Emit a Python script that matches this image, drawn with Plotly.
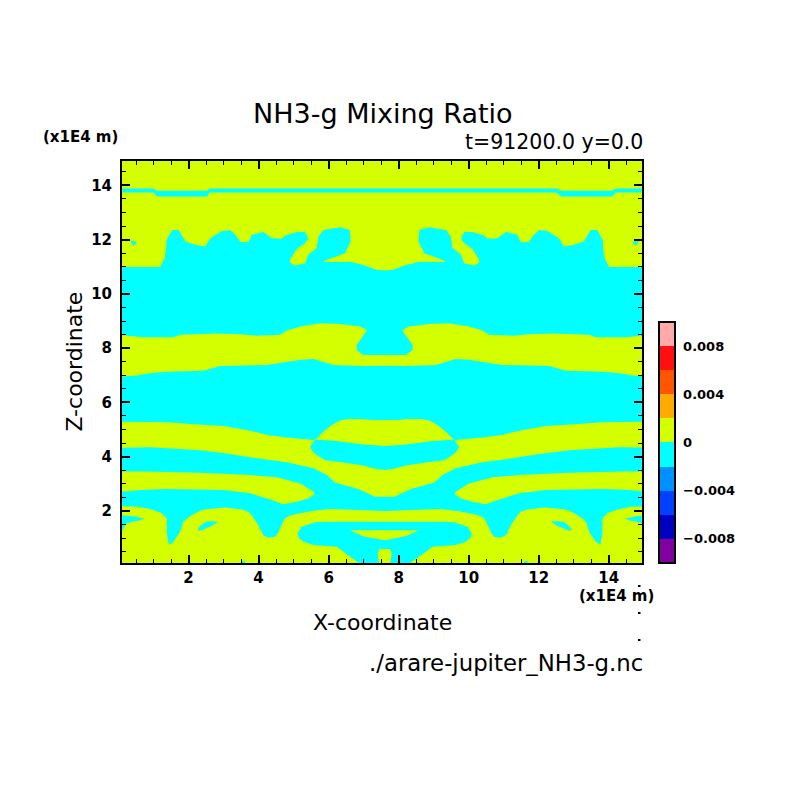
import plotly.graph_objects as go

TITLE = "NH3-g Mixing Ratio"
SUBTITLE = "t=91200.0 y=0.0"
X_LABEL = "X-coordinate"
Z_LABEL = "Z-coordinate"
UNIT_LABEL = "(x1E4 m)"
FILE_LABEL = "./arare-jupiter_NH3-g.nc"

LEVEL_COLORS = ["#8000a0", "#0000c0", "#0040ff", "#0090ff", "#00ffff",
                "#d4ff00", "#ffaa00", "#ff5500", "#ff1010", "#ffaaaa"]
BAR_TICKS = [-0.008, -0.004, 0, 0.004, 0.008]
BAR_LABELS = ["\u22120.008", "\u22120.004", "0", "0.004", "0.008"]
BACKGROUND_VALUE = 0.001
NEGATIVE = LEVEL_COLORS[4]
POSITIVE = LEVEL_COLORS[5]

# Zero contours read from the section: (x, z) in units of 1E4 m
TOP_STRIPE = [(0, 13.89), (1.0, 13.89), (1.1, 13.80), (2.53, 13.80), (2.6, 13.89), (12.5, 13.89), (12.65, 13.80),
              (14.1, 13.80), (14.2, 13.89), (15.2, 13.89), (15.2, 13.74), (14.2, 13.74), (14.1, 13.59), (12.65, 13.59),
              (12.5, 13.74), (2.6, 13.74), (2.53, 13.59), (1.1, 13.59), (1.0, 13.74), (0, 13.74)]

UPPER_REGION = [
    (0, 10.99), (1.19, 10.99), (1.32, 11.32), (1.36, 11.69), (1.37, 11.99), (1.53, 12.36), (1.72, 12.36), (1.91, 11.93),
    (2.19, 11.81), (2.48, 11.75), (2.62, 12.05), (2.95, 12.32), (3.19, 12.36), (3.38, 12.12), (3.48, 11.91), (3.71, 11.91),
    (3.81, 12.18), (4.14, 12.28), (4.38, 12.05), (4.66, 12.03), (4.76, 12.15), (5.09, 12.28), (5.33, 12.28), (5.42, 12.05),
    (5.33, 11.87), (5.09, 11.66), (4.90, 11.26), (4.90, 11.16), (5.04, 11.05), (5.33, 11.13), (5.42, 11.44), (5.66, 11.69),
    (5.71, 12.12), (5.85, 12.36), (6.33, 12.46), (6.61, 12.36), (6.63, 11.93), (6.47, 11.50), (5.90, 11.23), (5.87, 11.18),
    (6.61, 11.19), (6.99, 11.07), (7.37, 10.89), (7.61, 10.86),
    (7.83, 10.89), (8.21, 11.07), (8.59, 11.19), (9.33, 11.18), (9.30, 11.23), (8.73, 11.50), (8.57, 11.93), (8.59, 12.36),
    (8.87, 12.46), (9.35, 12.36), (9.49, 12.12), (9.54, 11.69), (9.78, 11.44), (9.87, 11.13), (10.16, 11.05), (10.30, 11.16),
    (10.30, 11.26), (10.11, 11.66), (9.87, 11.87), (9.78, 12.05), (9.87, 12.28), (10.11, 12.28), (10.44, 12.15), (10.54, 12.03),
    (10.82, 12.05), (11.06, 12.28), (11.39, 12.18), (11.49, 11.91), (11.72, 11.91), (11.82, 12.12), (12.01, 12.36), (12.25, 12.32),
    (12.58, 12.05), (12.72, 11.75), (13.01, 11.81), (13.29, 11.93), (13.48, 12.36), (13.67, 12.36), (13.83, 11.99), (13.84, 11.69),
    (13.88, 11.32), (14.01, 10.99), (15.2, 10.99),
    (15.2, 8.49), (14.48, 8.40), (13.63, 8.40), (13.44, 8.49), (12.39, 8.54), (11.73, 8.51), (11.25, 8.46), (10.58, 8.49),
    (10.39, 8.65), (10.01, 8.80), (9.44, 8.92), (8.87, 8.89), (8.30, 8.80), (8.11, 8.67), (8.16, 8.55), (8.40, 8.12),
    (8.40, 7.93), (8.21, 7.75), (6.99, 7.75), (6.80, 7.93), (6.80, 8.12), (7.04, 8.55), (7.09, 8.67), (6.90, 8.80),
    (6.33, 8.89), (5.76, 8.92), (5.19, 8.80), (4.81, 8.65), (4.62, 8.49), (3.95, 8.46), (3.47, 8.51), (2.81, 8.54),
    (1.76, 8.49), (1.57, 8.40), (0.72, 8.40), (0, 8.49),
]

MIDDLE_REGION = [
    (0, 6.95), (0.53, 6.99), (0.81, 7.07), (1.38, 7.13), (2.43, 7.17), (2.90, 7.34), (4.24, 7.38), (5.19, 7.57), (5.57, 7.60),
    (6.14, 7.38), (6.90, 7.34), (7.61, 7.35), (8.30, 7.34), (9.06, 7.38), (9.63, 7.60), (10.01, 7.57), (10.96, 7.38),
    (12.30, 7.34), (12.77, 7.17), (13.82, 7.13), (14.39, 7.07), (14.67, 6.99), (15.2, 6.95),
    (15.2, 5.29), (13.77, 5.27), (13.15, 5.20), (12.20, 5.13), (11.44, 4.96), (10.96, 4.80), (10.39, 4.71), (9.63, 4.61),
    (9.54, 4.67), (9.35, 4.92), (9.11, 5.17), (8.87, 5.33), (8.64, 5.39), (8.30, 5.39), (7.95, 5.35), (7.25, 5.35), (6.90, 5.39), (6.56, 5.39),
    (6.33, 5.33), (6.09, 5.17), (5.85, 4.92), (5.66, 4.67), (5.57, 4.61), (4.81, 4.71), (4.24, 4.80), (3.76, 4.96),
    (3.00, 5.13), (2.05, 5.20), (1.43, 5.27), (0, 5.29),
]

LENS = [(5.60, 4.63), (6.23, 4.58), (6.99, 4.45), (7.61, 4.39), (8.21, 4.45), (8.97, 4.58), (9.60, 4.63), (9.62, 4.55),
        (9.73, 4.37), (9.66, 4.20), (9.54, 4.06), (9.30, 3.87), (8.83, 3.79), (8.21, 3.67), (7.90, 3.56), (7.61, 3.51),
        (7.30, 3.56), (6.99, 3.67), (6.37, 3.79), (5.90, 3.87), (5.66, 4.06), (5.54, 4.20), (5.47, 4.37), (5.58, 4.55)]

LOWER_REGION = [
    (0, 4.33), (0.91, 4.35), (2.33, 4.24), (3.09, 4.12), (3.95, 3.94), (4.81, 3.79), (5.57, 3.57), (5.95, 3.32), (6.18, 3.05),
    (6.85, 2.81), (7.32, 2.52), (7.88, 2.52), (8.35, 2.81), (9.02, 3.05), (9.25, 3.32), (9.63, 3.57), (10.39, 3.79),
    (11.25, 3.94), (12.11, 4.12), (12.87, 4.24), (14.29, 4.35), (15.2, 4.33),
    (15.2, 2.18), (14.63, 2.15), (14.25, 2.05), (13.96, 1.91), (13.82, 1.72), (13.82, 1.17), (13.76, 0.74), (13.63, 0.86),
    (13.44, 1.23), (13.35, 1.60), (13.25, 1.72), (13.01, 1.91), (12.82, 2.03), (12.63, 2.07), (12.16, 2.13), (11.68, 2.05),
    (11.49, 1.97), (11.40, 1.85), (11.30, 1.66), (11.21, 1.48), (11.07, 1.11), (10.92, 1.01), (10.73, 1.05), (10.64, 1.19),
    (10.59, 1.35), (10.45, 1.72), (10.31, 1.82), (10.16, 1.88), (9.68, 2.00), (9.16, 2.07), (7.61, 2.00),
    (6.04, 2.07), (5.52, 2.00), (5.04, 1.88), (4.89, 1.82), (4.75, 1.72), (4.61, 1.35), (4.56, 1.19), (4.47, 1.05), (4.28, 1.01),
    (4.13, 1.11), (3.99, 1.48), (3.90, 1.66), (3.80, 1.85), (3.71, 1.97), (3.52, 2.05), (3.04, 2.13), (2.57, 2.07),
    (2.38, 2.03), (2.19, 1.91), (1.95, 1.72), (1.85, 1.60), (1.76, 1.23), (1.57, 0.86), (1.44, 0.74), (1.38, 1.17),
    (1.38, 1.72), (1.24, 1.91), (0.95, 2.05), (0.57, 2.15), (0, 2.18),
]

BAND_LEFT = [(0, 3.45), (0.72, 3.45), (2.33, 3.41), (3.76, 3.32), (4.52, 3.24), (5.19, 3.01), (5.57, 2.71), (5.60, 2.61),
             (5.42, 2.46), (5.09, 2.34), (4.71, 2.25), (4.33, 2.42), (3.76, 2.65), (3.00, 2.77), (1.38, 2.81), (0.62, 2.77), (0, 2.69)]
BAND_RIGHT = [(15.2, 3.45), (14.48, 3.45), (12.87, 3.41), (11.44, 3.32), (10.68, 3.24), (10.01, 3.01), (9.63, 2.71), (9.60, 2.61),
              (9.78, 2.46), (10.11, 2.34), (10.49, 2.25), (10.87, 2.42), (11.44, 2.65), (12.20, 2.77), (13.82, 2.81), (14.58, 2.77), (15.2, 2.69)]

NOTCH_LEFT = [(0, 1.85), (0.40, 1.80), (0.74, 1.72), (0.60, 1.65), (0.38, 1.60), (0.20, 1.52), (0.13, 1.29), (0, 1.29)]
NOTCH_RIGHT = [(15.2, 1.85), (14.80, 1.80), (14.46, 1.72), (14.60, 1.65), (14.82, 1.60), (15.0, 1.52), (15.07, 1.29), (15.2, 1.29)]

EDDY_LEFT = [(2.28, 1.35), (2.33, 1.44), (2.49, 1.60), (2.66, 1.62), (2.85, 1.60), (2.66, 1.44), (2.33, 1.27), (2.28, 1.27)]
EDDY_RIGHT = [(12.92, 1.35), (12.87, 1.44), (12.71, 1.60), (12.54, 1.62), (12.35, 1.60), (12.54, 1.44), (12.87, 1.27), (12.92, 1.27)]

ARCH_INNER = [(5.11, 1.17), (5.23, 1.42), (5.61, 1.58), (5.90, 1.60), (9.30, 1.60), (9.59, 1.58), (9.97, 1.42), (10.09, 1.17),
              (10.05, 1.00), (9.92, 0.86), (9.63, 0.74), (8.97, 0.68), (8.64, 0.37), (8.37, 0.12), (8.35, 0), (6.85, 0), (6.83, 0.12),
              (6.56, 0.37), (6.23, 0.68), (5.57, 0.74), (5.28, 0.86), (5.15, 1.00)]
WEDGE = [(6.61, 1.29), (8.59, 1.29), (8.23, 1.08), (7.61, 0.92), (6.99, 1.07)]
CORE = [(7.45, 0.60), (7.75, 0.60), (7.80, 0.43), (7.75, 0), (7.45, 0), (7.40, 0.43)]

SPOT_LEFT = [(0.34, 11.96), (0.51, 11.93), (0.49, 11.84), (0.42, 11.78), (0.37, 11.87)]
SPOT_RIGHT = [(14.86, 11.96), (14.69, 11.93), (14.71, 11.84), (14.78, 11.78), (14.83, 11.87)]
SPECK_LEFT = [(3.52, 0), (3.62, 0), (3.62, 0.15), (3.52, 0.15)]
SPECK_RIGHT = [(11.58, 0), (11.68, 0), (11.68, 0.15), (11.58, 0.15)]

LAYERS = [
    (TOP_STRIPE, NEGATIVE), (UPPER_REGION, NEGATIVE), (MIDDLE_REGION, NEGATIVE), (LENS, NEGATIVE), (LOWER_REGION, NEGATIVE),
    (BAND_LEFT, POSITIVE), (BAND_RIGHT, POSITIVE), (NOTCH_LEFT, NEGATIVE), (NOTCH_RIGHT, NEGATIVE),
    (EDDY_LEFT, NEGATIVE), (EDDY_RIGHT, NEGATIVE), (ARCH_INNER, NEGATIVE), (WEDGE, POSITIVE), (CORE, POSITIVE),
    (SPOT_LEFT, NEGATIVE), (SPOT_RIGHT, NEGATIVE), (SPECK_LEFT, NEGATIVE), (SPECK_RIGHT, NEGATIVE),
]

# Discrete colour scale
n = len(LEVEL_COLORS)
scale = []
for i, c in enumerate(LEVEL_COLORS):
    scale += [[i / n, c], [(i + 1) / n, c]]

# Page layout (pixels)
PAGE = 804
L, R, T, B = 121.5, 642.5, 161, 563
W, H = R - L, B - T
px = lambda v: (v - L) / W
py = lambda v: (B - v) / H

fig = go.Figure(go.Heatmap(
    x=[0, 15.2], y=[0, 15],
    z=[[BACKGROUND_VALUE, BACKGROUND_VALUE], [BACKGROUND_VALUE, BACKGROUND_VALUE]],
    zmin=-0.01, zmax=0.01, colorscale=scale, zsmooth=False, hoverinfo="skip",
    colorbar=dict(
        x=px(660), xanchor="left", xpad=0, y=0, yanchor="bottom", ypad=0,
        lenmode="pixels", len=241, thicknessmode="pixels", thickness=16,
        outlinewidth=2, outlinecolor="black", borderwidth=0,
        tickmode="array", tickvals=BAR_TICKS, ticktext=BAR_LABELS,
        ticks="outside", ticklen=5, tickcolor="rgba(0,0,0,0)",
        tickfont=dict(family="DejaVu Sans", size=13, color="black", weight=700),
    ),
))

for outline, colour in LAYERS:
    xs, zs = zip(*outline)
    fig.add_trace(go.Scatter(x=xs, y=zs, mode="none", fill="toself", fillcolor=colour,
                             hoverinfo="skip", showlegend=False))

axis = dict(
    showgrid=False, zeroline=False, showline=True, linecolor="black", linewidth=2,
    mirror="ticks", ticks="inside", ticklen=8, tickwidth=2, tickcolor="black",
    tick0=0, dtick=2,
    tickfont=dict(family="DejaVu Sans", size=15, color="black", weight=700),
    minor=dict(ticks="inside", dtick=0.5, tick0=0, ticklen=4, tickwidth=1, tickcolor="black", showgrid=False),
)
fig.update_xaxes(range=[0.1, 14.95], **axis)
fig.update_yaxes(range=[0.08, 14.9], ticklabelstandoff=5, **axis)


def label(text, x, y, size, anchor="center", angle=0, weight=400):
    fig.add_annotation(text=text, xref="paper", yref="paper", x=px(x), y=py(y),
                       xanchor=anchor, yanchor="middle", showarrow=False, textangle=angle,
                       font=dict(family="DejaVu Sans", size=size, color="black", weight=weight))


label(TITLE, 383, 114, 27)
label(SUBTITLE, 646, 142, 20.5, anchor="right")
label(UNIT_LABEL, 40, 137, 15, anchor="left", weight=700)
label(UNIT_LABEL, 577, 596, 15, anchor="left", weight=700)
label(X_LABEL, 382, 622, 22)
label(Z_LABEL, 73, 362, 22, angle=-90)
label(FILE_LABEL, 646, 663, 22.8, anchor="right")

for yy in (586, 613, 640):
    fig.add_shape(type="rect", xref="paper", yref="paper",
                  x0=px(638.5), x1=px(641), y0=py(yy + 1), y1=py(yy - 1),
                  fillcolor="black", line_width=0)

fig.update_layout(
    width=PAGE, height=PAGE, paper_bgcolor="white", plot_bgcolor="white",
    margin=dict(l=L, r=PAGE - R, t=T, b=PAGE - B, autoexpand=False),
    showlegend=False,
)

fig.write_html("out.html", config={"displayModeBar": False},
               post_script="document.body.style.margin='0';")
